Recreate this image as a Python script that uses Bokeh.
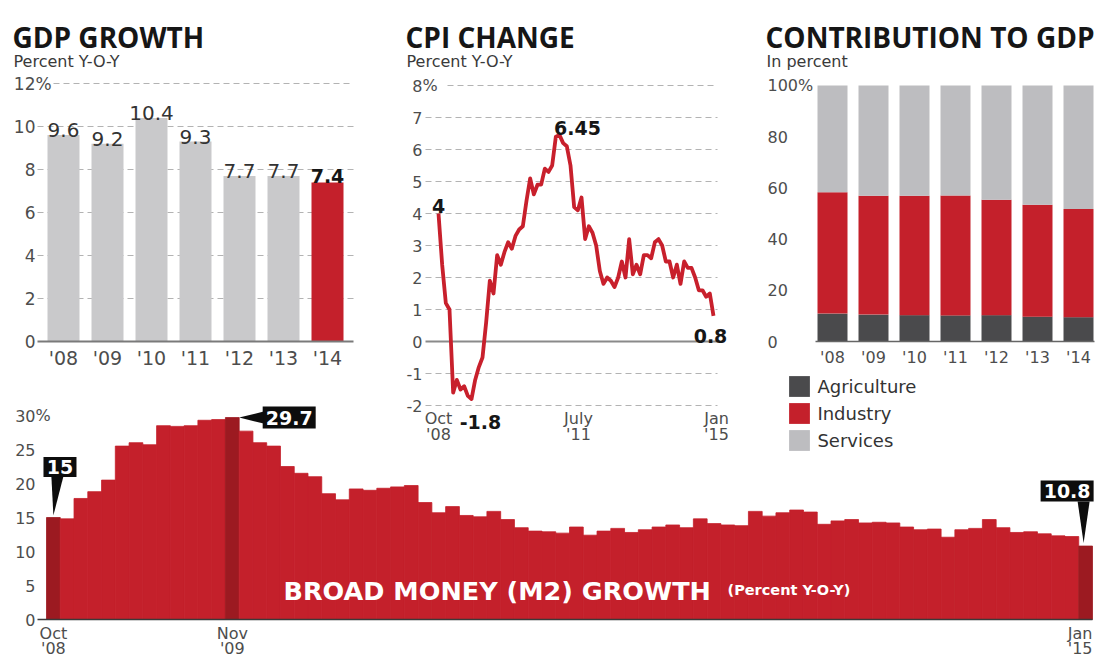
from bokeh.plotting import figure
from bokeh.models import Range1d, Legend, LegendItem
from bokeh.core.properties import value
from bokeh.embed import file_html
from bokeh.resources import INLINE

# ---------------- data ----------------
gdp_years = ["'08", "'09", "'10", "'11", "'12", "'13", "'14"]
gdp_growth = [9.6, 9.2, 10.4, 9.3, 7.7, 7.7, 7.4]
gdp_ticks = [0, 2, 4, 6, 8, 10, 12]

# monthly CPI change, Oct 2008 .. Jan 2015
cpi_values = [
    4.0, 2.4, 1.2,
    1.0, -1.6, -1.2, -1.5, -1.4, -1.7, -1.8, -1.2, -0.8, -0.5, 0.6, 1.9,
    1.5, 2.7, 2.4, 2.8, 3.1, 2.9, 3.3, 3.5, 3.6, 4.4, 5.1, 4.6,
    4.9, 4.9, 5.4, 5.3, 5.5, 6.4, 6.45, 6.2, 6.1, 5.5, 4.2, 4.1,
    4.5, 3.2, 3.6, 3.4, 3.0, 2.2, 1.8, 2.0, 1.9, 1.7, 2.0, 2.5,
    2.0, 3.2, 2.1, 2.4, 2.1, 2.7, 2.7, 2.6, 3.1, 3.2, 3.0, 2.5,
    2.5, 2.0, 2.4, 1.8, 2.5, 2.3, 2.3, 2.0, 1.6, 1.6, 1.4, 1.5,
    0.8,
]
cpi_ticks = [-2, -1, 0, 1, 2, 3, 4, 5, 6, 7, 8]
cpi_tick_months = [0, 33, 75]
cpi_tick_month_names = ["Oct", "July", "Jan"]
cpi_tick_years = ["'08", "'11", "'15"]

contrib_years = ["'08", "'09", "'10", "'11", "'12", "'13", "'14"]
agriculture = [10.9, 10.5, 10.3, 10.2, 10.3, 9.7, 9.5]
industry = [47.4, 46.4, 46.6, 46.8, 45.1, 43.7, 42.3]
services = [round(100 - a - i, 1) for a, i in zip(agriculture, industry)]
contrib_ticks = [0, 20, 40, 60, 80, 100]

# monthly broad money (M2) growth, Oct 2008 .. Jan 2015
m2_values = [
    15.0, 14.8, 17.8,
    18.8, 20.5, 25.5, 26.0, 25.7, 28.5, 28.4, 28.5, 29.3, 29.4, 29.7, 27.7,
    26.0, 25.5, 22.5, 21.5, 21.0, 18.5, 17.6, 19.2, 19.0, 19.3, 19.5, 19.7,
    17.2, 15.7, 16.6, 15.3, 15.1, 15.9, 14.7, 13.5, 13.0, 12.9, 12.7, 13.6,
    12.4, 13.0, 13.4, 12.8, 13.2, 13.6, 13.9, 13.5, 14.8, 14.1, 13.9, 13.8,
    15.9, 15.2, 15.7, 16.1, 15.8, 14.0, 14.5, 14.7, 14.2, 14.3, 14.2, 13.6,
    13.2, 13.3, 12.1, 13.2, 13.4, 14.7, 13.5, 12.8, 12.9, 12.6, 12.3, 12.2,
    10.8,
]
m2_ticks = [0, 5, 10, 15, 20, 25, 30]
m2_tick_month_names = ["Oct", "Nov", "Jan"]
m2_tick_years = ["'08", "'09", "'15"]

# ---------------- style ----------------
BODY = "DejaVu Sans"
HEAD = "Open Sans"
INK = "#161616"
TICK = "#4d4d4d"
VAL = "#333333"
RED = "#c4202b"
DARK_RED = "#9c1a21"
GRAY_BAR = "#c9c9cb"
AGRI = "#4a4a4c"
SERV = "#bdbdc0"
GRID = "#b3b3b3"

# ---------------- canvas ----------------
W, H = 1097, 658
X0, Y0 = 0, 0              # picture pixel at frame's top-left
X1, Y1 = X0 + W, Y0 + H


class Scale:
    def __init__(self, v0, p0, v1, p1):
        self.v0, self.p0 = v0, p0
        self.k = (p1 - p0) / (v1 - v0)

    def px(self, v):
        return self.p0 + (v - self.v0) * self.k

    def val(self, px):
        return self.v0 + (px - self.p0) / self.k


scales = {
    "gdp": (Scale(0, 63, 6, 327), Scale(0, 341, 12, 83)),
    "cpi": (Scale(0, 438, 75, 713), Scale(0, 341, 8, 85)),
    "con": (Scale(0, 832, 6, 1078), Scale(0, 341, 100, 85)),
    "m2": (Scale(0, 46, 76, 1092), Scale(0, 619, 30, 415)),
}

p = figure(width=W, height=H, output_backend="svg", toolbar_location=None,
           x_range=Range1d(X0, X1), y_range=Range1d(Y1, Y0),
           x_axis_location=None, y_axis_location=None, min_border=0)
p.grid.visible = False
p.outline_line_color = None
p.background_fill_color = "white"
p.border_fill_color = "white"
p.extra_x_ranges = {k: Range1d(sx.val(X0), sx.val(X1)) for k, (sx, sy) in scales.items()}
p.extra_y_ranges = {k: Range1d(sy.val(Y1), sy.val(Y0)) for k, (sx, sy) in scales.items()}


def rn(panel):
    return dict(x_range_name=panel, y_range_name=panel) if panel else {}


def label(xs, ys, texts, size, panel=None, color=TICK, font=BODY, bold=False,
          align="center", baseline="middle", xo=0, yo=0):
    return p.text(x=list(xs), y=list(ys), text=list(texts), text_font=value(font),
                  text_font_size=size, text_color=color,
                  text_font_style="bold" if bold else "normal",
                  text_align=align, text_baseline=baseline,
                  x_offset=xo, y_offset=yo, **rn(panel))


# ---------------- titles ----------------
for title, sub, tx in [("GDP GROWTH", "Percent Y-O-Y", 12),
                       ("CPI CHANGE", "Percent Y-O-Y", 405),
                       ("CONTRIBUTION TO GDP", "In percent", 765)]:
    label([tx], [36], [title], "28px", color=INK, font=HEAD, bold=True,
          align="left", baseline="alphabetic")
    label([tx + 1], [61], [sub], "16px", color="#3a3a3a", align="left",
          baseline="alphabetic")

# ---------------- GDP growth ----------------
gx, gy = scales["gdp"]
gi = list(range(len(gdp_years)))
grid_y = [t for t in gdp_ticks if t != 0]
p.segment(x0=[gx.val(53) if t == max(gdp_ticks) else gx.val(37) for t in grid_y],
          y0=grid_y, x1=[gx.val(353)] * len(grid_y), y1=grid_y,
          line_color=GRID, line_width=1.2, line_dash="6 4", **rn("gdp"))
p.vbar(x=gi, top=gdp_growth, width=32 / 44, bottom=0,
       fill_color=[GRAY_BAR] * (len(gi) - 1) + [RED], line_color=None, **rn("gdp"))
p.segment(x0=[gx.val(37)], y0=[0], x1=[gx.val(353)], y1=[0],
          line_color="#7a7a7a", line_width=2, **rn("gdp"))
label([gx.val(35)] * len(gdp_ticks), gdp_ticks, [str(t) for t in gdp_ticks], "17px",
      panel="gdp", align="right")
label([gx.val(35)], [max(gdp_ticks)], ["%"], "17px", panel="gdp", align="left")
label(gi, [gy.val(357)] * len(gi), gdp_years, "19px", panel="gdp")
label(gi[:-1], gdp_growth[:-1], [f"{v:g}" for v in gdp_growth[:-1]], "20px",
      panel="gdp", color=VAL, baseline="alphabetic", yo=-5)
label(gi[-1:], gdp_growth[-1:], [f"{gdp_growth[-1]:g}"], "19px", panel="gdp",
      color=INK, bold=True, baseline="alphabetic", yo=-6)

# ---------------- CPI change ----------------
cx, cy = scales["cpi"]
cm = list(range(len(cpi_values)))
grid_c = [t for t in cpi_ticks if t != 0]
p.segment(x0=[cx.val(447) if t == max(cpi_ticks) else cx.val(425) for t in grid_c],
          y0=grid_c, x1=[cx.val(717)] * len(grid_c), y1=grid_c,
          line_color=GRID, line_width=1.2, line_dash="6 4", **rn("cpi"))
p.segment(x0=[cx.val(425)], y0=[0], x1=[cx.val(718)], y1=[0],
          line_color="#8a8a8a", line_width=2, **rn("cpi"))
p.line(x=cm, y=cpi_values, line_color="#c8202c", line_width=3.8,
       line_join="round", **rn("cpi"))
label([cx.val(422)] * len(cpi_ticks), cpi_ticks, [str(t) for t in cpi_ticks], "16px",
      panel="cpi", align="right")
label([cx.val(422)], [max(cpi_ticks)], ["%"], "16px", panel="cpi", align="left")
for m, nm, yr, xo in zip(cpi_tick_months, cpi_tick_month_names, cpi_tick_years, [0, 19, 3]):
    label([m], [cy.val(418)], [nm], "16px", panel="cpi", xo=xo)
    label([m], [cy.val(434)], [yr], "16px", panel="cpi", xo=xo)
i_min = cpi_values.index(min(cpi_values))
i_max = cpi_values.index(max(cpi_values))
i_last = len(cpi_values) - 1
for i, xo, yo in [(0, 0, -8), (i_min, 9, 23), (i_max, 18, -7), (i_last, -3, 20)]:
    label([i], [cpi_values[i]], [f"{cpi_values[i]:g}"], "19px", panel="cpi", color=INK,
          bold=True, baseline="alphabetic", xo=xo, yo=yo)

# ---------------- Contribution to GDP ----------------
kx, ky = scales["con"]
ki = list(range(len(contrib_years)))
ag_top = agriculture
ind_top = [a + b for a, b in zip(agriculture, industry)]
srv_top = [a + b for a, b in zip(ind_top, services)]
bw = 30 / 41
r_ag = p.vbar(x=ki, bottom=0, top=ag_top, width=bw, fill_color=AGRI, line_color=None, **rn("con"))
r_in = p.vbar(x=ki, bottom=ag_top, top=ind_top, width=bw, fill_color=RED, line_color=None, **rn("con"))
r_sv = p.vbar(x=ki, bottom=ind_top, top=srv_top, width=bw, fill_color=SERV, line_color=None, **rn("con"))
p.segment(x0=[kx.val(815)], y0=[0], x1=[kx.val(1094)], y1=[0],
          line_color="#666666", line_width=1.5, **rn("con"))
label([kx.val(767)] * len(contrib_ticks), contrib_ticks,
      [str(t) for t in contrib_ticks[:-1]] + [f"{contrib_ticks[-1]}%"], "16px",
      panel="con", align="left")
label(ki, [ky.val(357)] * len(ki), contrib_years, "16px", panel="con")

legend = Legend(items=[LegendItem(label=value("Agriculture"), renderers=[r_ag]),
                       LegendItem(label=value("Industry"), renderers=[r_in]),
                       LegendItem(label=value("Services"), renderers=[r_sv])],
                location=(786.4 - X0, Y1 - 453.4), orientation="vertical",
                glyph_width=26, glyph_height=26, spacing=1, padding=0, margin=0,
                label_standoff=5, label_height=26,
                label_text_font=BODY, label_text_font_size="18px",
                label_text_color="#333333", border_line_color=None,
                background_fill_alpha=0)
p.add_layout(legend)

# ---------------- Broad money (M2) ----------------
mx, my = scales["m2"]
mi = list(range(len(m2_values)))
i_peak = m2_values.index(max(m2_values))
hi = {0, i_peak, len(m2_values) - 1}
m2_colors = [DARK_RED if i in hi else RED for i in mi]
p.quad(left=mi, right=[i + 1 for i in mi], top=m2_values, bottom=0,
       fill_color=m2_colors, line_color=m2_colors, line_width=0.8, **rn("m2"))
p.segment(x0=[mx.val(37)], y0=[0], x1=[mx.val(1092)], y1=[0],
          line_color="#3a3a3a", line_width=1.5, **rn("m2"))
label([mx.val(35)] * len(m2_ticks), m2_ticks, [str(t) for t in m2_ticks], "16px",
      panel="m2", align="right")
label([mx.val(35)], [max(m2_ticks)], ["%"], "16px", panel="m2", align="left")
last = len(m2_values)
for pos, nm, yr, al in [(0.5, m2_tick_month_names[0], m2_tick_years[0], "center"),
                        (i_peak + 0.5, m2_tick_month_names[1], m2_tick_years[1], "center"),
                        (last, m2_tick_month_names[2], m2_tick_years[2], "right")]:
    label([pos], [my.val(633)], [nm], "16px", panel="m2", align=al)
    label([pos], [my.val(647.5)], [yr], "16px", panel="m2", align=al)

# call-outs: (bar index, anchor x within bar, box offset, box size, pointer triangle)
callouts = [
    (0, 0.5, (6.6, -50.5), (33, 20), [(0, -2), (-2, -41), (10, -41)]),
    (i_peak, 1.0, (50, 0), (53, 22), [(0, 0), (24.5, -6), (24.5, 6)]),
    (last - 1, 0.5, (-18.5, -55.1), (53, 21), [(-2, -3), (-8, -44.6), (4, -44.6)]),
]
bxs, bys, txs, tys, tts = [], [], [], [], []
for idx, frac, (dx, dy), (bwid, bhgt), tri in callouts:
    ax, ay = mx.px(idx + frac), my.px(m2_values[idx])
    ccx, ccy = ax + dx, ay + dy
    bxs.append([ccx - bwid / 2, ccx + bwid / 2, ccx + bwid / 2, ccx - bwid / 2])
    bys.append([ccy - bhgt / 2, ccy - bhgt / 2, ccy + bhgt / 2, ccy + bhgt / 2])
    bxs.append([ax + t[0] for t in tri])
    bys.append([ay + t[1] for t in tri])
    txs.append(ccx)
    tys.append(ccy)
    tts.append(f"{m2_values[idx]:g}")
p.patches(xs=bxs, ys=bys, fill_color="#0d0d0d", line_color=None)
label(txs, tys, tts, "19px", color="white", bold=True)

label([283], [590], ["BROAD MONEY (M2) GROWTH"], "25.5px", color="white", bold=True,
      align="left", baseline="alphabetic")
label([727], [589], ["(Percent Y-O-Y)"], "14.5px", color="white", bold=True,
      align="left", baseline="alphabetic")

open("out.html", "w").write(file_html(p, INLINE))
